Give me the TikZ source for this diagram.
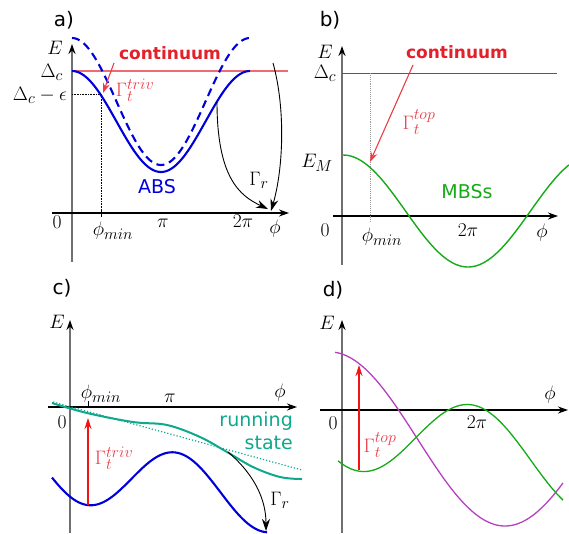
\RequirePackage{fix-cm}
\documentclass[tikz,border=0pt]{standalone}
\usepackage{fontspec}
\setsansfont{DejaVu Sans}
\usetikzlibrary{arrows.meta}
\DeclareMathSizes{19.5}{19.5}{16}{12}
\definecolor{absblue}{RGB}{0,0,220}
\definecolor{contred}{RGB}{228,32,42}
\definecolor{ratered}{RGB}{232,62,72}
\definecolor{gappink}{RGB}{236,108,118}
\definecolor{gapred}{RGB}{222,30,40}
\definecolor{kickred}{RGB}{240,20,20}
\definecolor{runteal}{RGB}{16,168,140}
\definecolor{mbsgreen}{RGB}{22,170,22}
\definecolor{mbspurple}{RGB}{182,64,192}
\definecolor{axisgray}{RGB}{112,112,112}

\begin{document}
\begin{tikzpicture}[x=1pt, y=-1pt,
  lbl/.style={font=\fontsize{19.5}{22}\selectfont, inner sep=1pt},
  tag/.style={font=\sffamily\fontsize{20}{22}\selectfont, inner sep=1pt},
  word/.style={font=\sffamily\fontsize{19}{23}\selectfont, inner sep=1pt},
  cont/.style={font=\sffamily\bfseries\fontsize{17}{20}\selectfont, text=contred, inner sep=1pt},
  rate/.style={lbl, text=ratered},
  xaxis/.style={draw=black, line width=1.2pt, -{Stealth[length=10pt, width=7pt]}},
  yaxis/.style={draw=axisgray, line width=1.8pt, -{Stealth[length=10pt, width=7pt, color=black]}},
  hop/.style={draw=black, line width=0.9pt, -{Stealth[length=12pt, width=8pt]}},
  kick/.style={draw=kickred, line width=1.1pt, -{Stealth[length=11pt, width=7pt]}},
  abs/.style={draw=absblue, line width=2.1pt},
  mbs/.style={draw=mbsgreen, line width=1.4pt}
]
  \useasboundingbox (0,0) rectangle (569,533);

  % a)
  \node[tag] (ta) at (64,20) {a)};
  \draw[yaxis] (72,262) -- (72,44);
  \draw[xaxis] (52,213) -- (289,213);
  \node[lbl] (Ea) at (55,48) {$E$};
  \node[lbl, anchor=east] (Da) at (64,72) {$\Delta_c$};
  \node[lbl, anchor=east] (De) at (68,95) {$\Delta_c-\epsilon$};
  \draw[gappink, line width=1.5pt] (72,71) -- (288,71);
  \draw[densely dotted, line width=0.6pt] (72,94) -- (101,94) -- (101,213);
  \draw[line width=0.6pt] (101,209) -- (101,217);
  \draw[abs] plot[domain=72:250, samples=90] (\x, {121.5-50.5*cos(2.02247*(\x-72))});
  \draw[abs, dash pattern=on 8pt off 5pt] plot[domain=72:250, samples=90] (\x, {101.5-63.5*cos(2.02247*(\x-72))});
  \node[cont] (ca) at (170,53) {continuum};
  \coordinate (ca0) at (114,63);
  \coordinate (ca1) at (103,93);
  \draw[draw=ratered, line width=1.1pt, -{Stealth[length=10pt, width=7pt]}] (ca0) -- (ca1);
  \node[rate] (ga) at (135,90) {$\Gamma_t^{triv}$};
  \node[word, text=absblue] (abs) at (157,187) {ABS};
  \node[lbl] (ra) at (259,180) {$\Gamma_r$};
  \coordinate (h1s) at (217,102);
  \coordinate (h1e) at (268,209);
  \coordinate (h2s) at (273,63);
  \coordinate (h2e) at (271,211);
  \draw[hop] (h1s) .. controls (217,178) and (240,196) .. (h1e);
  \draw[hop] (h2s) .. controls (286,110) and (283,170) .. (h2e);
  \node[lbl] (za) at (57,222) {$0$};
  \node[lbl] (pa) at (113,231) {$\phi_{min}$};
  \node[lbl] (pia) at (163,223) {$\pi$};
  \node[lbl] (tpa) at (243,221) {$2\pi$};
  \node[lbl] (fa) at (275,229) {$\phi$};

  % b)
  \node[tag] (tb) at (330,20) {b)};
  \draw[yaxis] (342,265) -- (342,46);
  \draw[xaxis] (333,216) -- (558,216);
  \node[lbl] (Eb) at (325,52) {$E$};
  \node[lbl] (Db) at (325,73) {$\Delta_c$};
  \draw[gapred, line width=0.9pt] (342,73) -- (557,73);
  \draw[axisgray!70, densely dotted, line width=0.9pt] (370,73) -- (370,222);
  \draw[mbs] plot[domain=343:569, samples=90] (\x, {211-56*cos(1.44*(\x-343))});
  \node[cont] (cb) at (457,52) {continuum};
  \coordinate (cb0) at (413,65);
  \coordinate (cb1) at (370,162);
  \draw[draw=ratered, line width=1.1pt, -{Stealth[length=10pt, width=7pt]}] (cb0) -- (cb1);
  \node[rate] (gb) at (419,122) {$\Gamma_t^{top}$};
  \node[lbl] (EM) at (317,163) {$E_M$};
  \node[word, text=mbsgreen] (mbs) at (467,192) {MBSs};
  \node[lbl] (zb) at (325,230) {$0$};
  \node[lbl] (pb) at (382,237) {$\phi_{min}$};
  \node[lbl] (tpb) at (468,230) {$2\pi$};
  \node[lbl] (fb) at (542,233) {$\phi$};

  % c)
  \node[tag] (tc) at (62,288) {c)};
  \draw[yaxis] (70,533) -- (70,320);
  \draw[xaxis] (48,407) -- (297,407);
  \node[lbl] (Ec) at (57,322) {$E$};
  \draw[line width=0.8pt] (88,401) -- (88,407);
  \draw[runteal, dotted, line width=1.2pt] (53,402) -- (302,470);
  \draw[runteal, line width=2pt] plot[smooth, tension=0.6] coordinates {(52,403) (87,413) (133,422) (167,425) (200,437) (227,452) (253,467) (280,477) (302,479)};
  \draw[abs] plot[domain=52:267, samples=90] (\x, {472+0.152*(\x-87)+33*cos(2.02247*(\x-87))});
  \node[lbl] (pc) at (101,394) {$\phi_{min}$};
  \node[lbl] (pic) at (170,398) {$\pi$};
  \node[lbl] (zc) at (62,422) {$0$};
  \node[lbl] (fc) at (280,393) {$\phi$};
  \node[word, text=runteal, align=right, anchor=east] (run) at (294,431) {running\\state};
  \coordinate (kc0) at (88,505);
  \coordinate (kc1) at (88,418);
  \draw[kick] (kc0) -- (kc1);
  \node[rate] (gc) at (114,458) {$\Gamma_t^{triv}$};
  \coordinate (h3s) at (228,452);
  \coordinate (h3e) at (266,531);
  \draw[hop] (h3s) .. controls (255,475) and (266,500) .. (h3e);
  \node[lbl] (rc) at (280,500) {$\Gamma_r$};

  % d)
  \node[tag] (td) at (333,290) {d)};
  \draw[yaxis] (342,533) -- (342,320);
  \draw[xaxis] (320,410) -- (568,410);
  \node[lbl] (Ed) at (327,323) {$E$};
  \draw[mbspurple, line width=1.3pt] plot[domain=335:563, samples=90] (\x, {439-87*cos(1.028571*(\x-330))});
  \draw[mbsgreen, line width=1.3pt] plot[domain=338:563, samples=90] (\x, {427.1+0.19*(\x-358)+43.9*cos(1.565*(\x-358))});
  \coordinate (kd0) at (359,470);
  \coordinate (kd1) at (359,365);
  \draw[kick] (kd0) -- (kd1);
  \node[rate] (gd) at (380,445) {$\Gamma_t^{top}$};
  \node[lbl] (zd) at (333,423) {$0$};
  \node[lbl] (tpd) at (477,422) {$2\pi$};
  \node[lbl] (fd) at (550,395) {$\phi$};
\end{tikzpicture}
\end{document}
